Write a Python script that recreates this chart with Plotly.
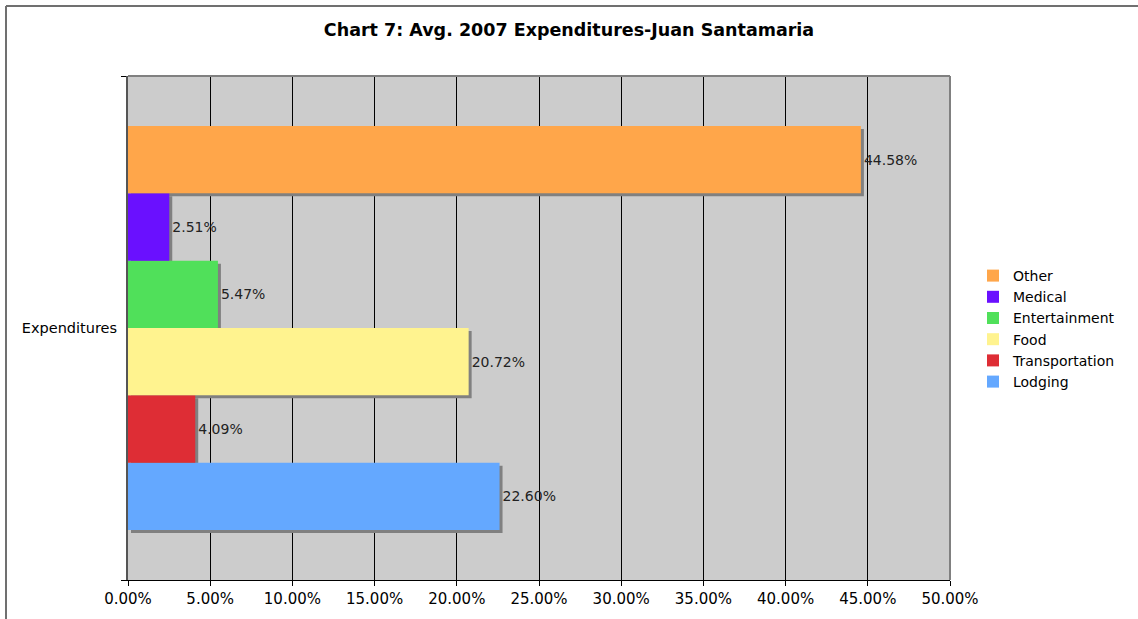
import plotly.graph_objects as go

categories = ["Expenditures"]
series_names = ["Lodging", "Transportation", "Food", "Entertainment", "Medical", "Other"]
series_values = [22.60, 4.09, 20.72, 5.47, 2.51, 44.58]
series_colors = ["#64A8FF", "#DE2D35", "#FFF38F", "#50E05A", "#6A10FF", "#FFA64A"]
tick_vals = [0, 5, 10, 15, 20, 25, 30, 35, 40, 45, 50]
tick_text = ["%.2f%%" % v for v in tick_vals]

W, H = 1138, 619
L, R, T, B = 128, 188, 76, 39
pw, ph = W - L - R, H - T - B
FONT = "DejaVu Sans"

fig = go.Figure()

# shadows on (hidden) main axes, shifted 3px right/down
for name, v in zip(series_names, series_values):
    fig.add_trace(go.Bar(
        y=categories, x=[v], orientation="h", name=name,
        marker=dict(color="#808080", line=dict(width=0)),
        showlegend=False, hoverinfo="skip", xaxis="x", yaxis="y",
    ))

# colored bars on visible overlay axes
for name, v, c in zip(series_names, series_values, series_colors):
    fig.add_trace(go.Bar(
        y=categories, x=[v], orientation="h", name=name,
        marker=dict(color=c, line=dict(width=0)),
        text=["%.2f%%" % v], textposition="outside",
        textfont=dict(family=FONT, size=14, color="#222222"),
        cliponaxis=False,
        xaxis="x2", yaxis="y2",
    ))

sx = 3.0 / pw * 50.0   # 3px in x units
sy = 3.0 / ph * 1.0    # 3px in category units

fig.update_layout(
    width=W, height=H, autosize=False,
    margin=dict(l=L, r=R, t=T, b=B, pad=0),
    paper_bgcolor="white", plot_bgcolor="#CCCCCC",
    barmode="group", bargap=0.198, bargroupgap=0,
    title=dict(text="<b>Chart 7: Avg. 2007 Expenditures-Juan Santamaria</b>",
               x=0.5, xanchor="center", y=1 - 30 / H, yanchor="middle",
               font=dict(family=FONT, size=17.5, color="#000000")),
    font=dict(family=FONT, size=14, color="#000000"),
    xaxis=dict(range=[-sx, 50 - sx], visible=False, fixedrange=True),
    yaxis=dict(range=[-0.5 + sy, 0.5 + sy], type="category", visible=False, fixedrange=True),
    xaxis2=dict(overlaying="x", range=[0, 50], tickvals=tick_vals, ticktext=tick_text,
                showgrid=True, gridcolor="#000000", gridwidth=1,
                zeroline=False, showline=True, linecolor="#000000", linewidth=1,
                ticks="outside", ticklen=5, tickcolor="#000000",
                tickfont=dict(family=FONT, size=15, color="#000000"),
                fixedrange=True),
    yaxis2=dict(overlaying="y", range=[-0.5, 0.5], type="category", showgrid=False,
                zeroline=False, showline=True, linecolor="#555555", linewidth=2,
                ticks="outside", ticklen=5, tickcolor="#000000", tickson="boundaries",
                tickfont=dict(family=FONT, size=14.5, color="#000000"),
                ticklabelstandoff=6, fixedrange=True),
    legend=dict(x=(973 - L) / pw, y=(H - B - 260) / ph, xanchor="left", yanchor="top",
                traceorder="reversed", font=dict(family=FONT, size=14, color="#000000"),
                bgcolor="rgba(0,0,0,0)", itemwidth=30, tracegroupgap=0),
    showlegend=True,
    shapes=[
        dict(type="line", xref="paper", yref="paper", x0=0, x1=1, y0=1, y1=1,
             line=dict(color="#808080", width=2)),
        dict(type="line", xref="paper", yref="paper", x0=1, x1=1, y0=0, y1=1,
             line=dict(color="#808080", width=2)),
        dict(type="line", xref="paper", yref="paper",
             x0=(6 - L) / pw, x1=(W + 10 - L) / pw,
             y0=(H - B - 6) / ph, y1=(H - B - 6) / ph,
             line=dict(color="#707070", width=2)),
        dict(type="line", xref="paper", yref="paper",
             x0=(6 - L) / pw, x1=(6 - L) / pw,
             y0=(H - B - 6) / ph, y1=(H - B - H - 10) / ph,
             line=dict(color="#707070", width=2)),
    ],
)

fig.write_html("out.html", config={"displayModeBar": False},
               post_script="document.body.style.margin='0';document.body.style.overflow='hidden';")
